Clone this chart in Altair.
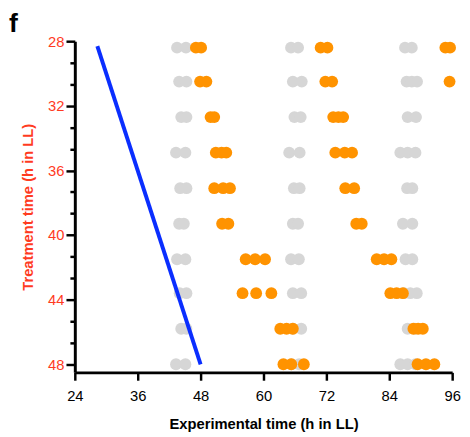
import altair as alt
import pandas as pd

# Treatment times (rows)
rows = [28.4, 30.5, 32.7, 34.9, 37.1, 39.3, 41.5, 43.6, 45.8, 48.0]

gray_times = [
    [43.5, 45.2, 65.25, 66.6, 87.0, 88.3],
    [43.9, 45.3, 65.6, 67.3, 87.3, 88.3, 89.3],
    [44.3, 45.3, 65.9, 67.1, 87.5, 89.1],
    [43.3, 45.1, 64.9, 66.9, 86.1, 87.5, 89.0],
    [44.1, 45.3, 65.8, 66.9, 87.4, 88.4],
    [43.9, 44.8, 65.6, 66.6, 86.6, 88.4],
    [43.5, 45.1, 65.25, 66.75, 87.1, 88.4],
    [44.0, 45.3, 65.6, 67.2, 86.8, 88.0, 89.25],
    [44.3, 45.3, 65.6, 67.2, 87.5, 88.9],
    [43.3, 45.1, 65.3, 66.8, 86.1, 87.5, 89.0],
]

orange_times = [
    [47.1, 48.1, 70.9, 72.2, 94.7, 95.6],
    [47.9, 49.1, 71.8, 73.1, 95.5],
    [49.9, 50.6, 73.3, 74.3, 75.2],
    [50.9, 52.0, 52.9, 73.7, 75.5, 76.9],
    [50.6, 52.3, 53.6, 75.6, 77.3],
    [52.1, 53.3, 77.7, 78.75],
    [56.6, 58.4, 60.3, 81.6, 83.0, 84.4],
    [56.0, 58.6, 61.5, 84.2, 85.4, 86.6],
    [63.2, 64.4, 65.6, 88.6, 89.5, 90.4],
    [63.8, 65.3, 67.7, 89.4, 91.0, 92.6],
]

line_x = [28.3, 48.0]
line_y = [28.3, 48.0]

x_ticks = [24, 36, 48, 60, 72, 84, 96]
y_ticks = [28 + i * 4 / 3 for i in range(16)]

gray_df = pd.DataFrame(
    [{"t": t, "row": r} for r, ts in zip(rows, gray_times) for t in ts]
)
orange_df = pd.DataFrame(
    [{"t": t, "row": r} for r, ts in zip(rows, orange_times) for t in ts]
)
line_df = pd.DataFrame({"t": line_x, "row": line_y})

FONT = "Liberation Sans"
RED = "#FF3B1F"
major_test = "abs(datum.value - round(datum.value / 4) * 4) < 0.01"

x_enc = alt.X(
    "t:Q",
    scale=alt.Scale(domain=[24, 96], nice=False, zero=False),
    axis=alt.Axis(
        values=x_ticks,
        title="Experimental time (h in LL)",
        labelFlush=False,
        labelOverlap=False,
        tickSize=8,
        labelPadding=9,
        titlePadding=13,
        labelColor="black",
        titleColor="black",
    ),
)
y_enc = alt.Y(
    "row:Q",
    scale=alt.Scale(domain=[28, 48.5], reverse=True, nice=False, zero=False),
    axis=alt.Axis(
        values=y_ticks,
        title="Treatment time (h in LL)",
        labelExpr=f"{major_test} ? datum.label : ''",
        tickSize={"condition": {"test": major_test, "value": 9}, "value": 5},
        labelFlush=False,
        labelOverlap=False,
        labelPadding=2,
        titlePadding=12,
        labelColor=RED,
        titleColor=RED,
    ),
)

DOT = 145
gray = alt.Chart(gray_df).mark_circle(size=DOT, opacity=1, color="#D6D6D6").encode(
    x=x_enc, y=y_enc
)
orange = alt.Chart(orange_df).mark_circle(size=DOT, opacity=1, color="#FF9300").encode(
    x=x_enc, y=y_enc
)
line = alt.Chart(line_df).mark_line(color="#0A2EFF", strokeWidth=4).encode(
    x=x_enc, y=y_enc
)

chart = (
    alt.layer(gray, orange, line)
    .properties(
        width=384,
        height=337,
        autosize=alt.AutoSizeParams(type="none"),
        padding={"left": 68, "top": 30, "right": 10, "bottom": 62},
        title=alt.TitleParams(
            "f",
            anchor="start",
            frame="group",
            dx=-67,
            dy=7,
            offset=3,
            fontSize=27,
            fontWeight="bold",
            font=FONT,
            color="black",
        ),
    )
    .configure_view(stroke=None)
    .configure_axis(
        grid=False,
        domainColor="black",
        domainWidth=3,
        tickColor="black",
        tickWidth=2.5,
        labelFont=FONT,
        labelFontSize=15,
        titleFont=FONT,
        titleFontSize=15,
        titleFontWeight="bold",
    )
)

chart.save("out.html", embed_options={"renderer": "svg", "actions": False})
